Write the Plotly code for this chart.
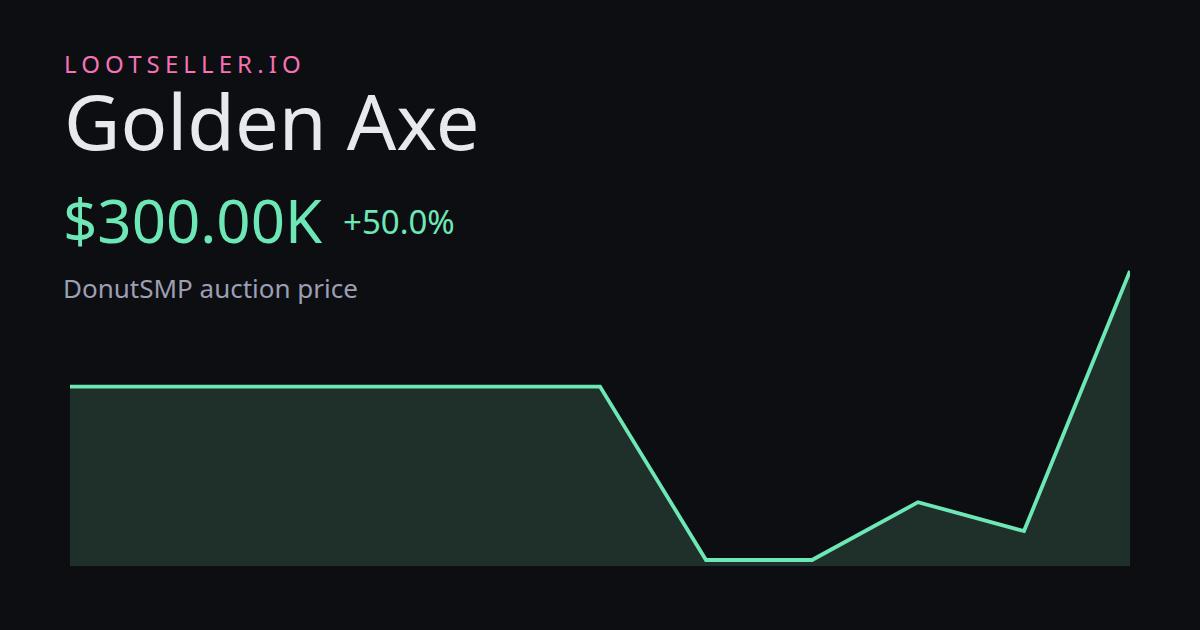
import plotly.graph_objects as go

# ---- data ----
prices_k = [200, 200, 200, 200, 200, 200, 50, 50, 100, 75, 300]
brand = "LOOTSELLER.IO"
item_name = "Golden Axe"
price_label = "$300.00K"
change_label = "+50.0%"
subtitle = "DonutSMP auction price"

# ---- style ----
W, H = 1200, 630
BG = "#0c0e12"
GREEN = "#6ee7b7"
FILL = "#1f302a"
PINK = "#f472b6"
WHITE = "#e8e9ee"
GRAY = "#9c9fb2"
FONT = "Noto Sans"

L, R, T, B = 70, 70, 260, 64
pw, ph = W - L - R, H - T - B

def px(x):
    return (x - L) / pw

def py(y):
    return (H - B - y) / ph

xs = list(range(len(prices_k)))
lo, hi = min(prices_k), max(prices_k)
span = hi - lo
yrange = [lo - 0.0208 * span, hi + 0.0380 * span]

fig = go.Figure()
fig.add_trace(go.Scatter(
    x=xs, y=prices_k, mode="lines",
    line=dict(color=GREEN, width=3.8),
    fill="tozeroy", fillcolor=FILL,
    hoverinfo="skip",
))

def ann(text, x, y, size, color):
    fig.add_annotation(
        text=text, x=px(x), y=py(y), xref="paper", yref="paper",
        xanchor="left", yanchor="middle", align="left", showarrow=False,
        font=dict(family=FONT, size=size, color=color),
    )

ann(brand, 62, 63, 24, PINK)
ann(item_name, 62, 120, 77.5, WHITE)
ann(price_label, 61, 220, 60, GREEN)
ann(change_label, 341, 221, 33, GREEN)
ann(subtitle, 61, 288, 26, GRAY)

fig.update_layout(
    width=W, height=H,
    margin=dict(l=L, r=R, t=T, b=B),
    paper_bgcolor=BG, plot_bgcolor=BG,
    showlegend=False,
    xaxis=dict(range=[xs[0], xs[-1]], visible=False, fixedrange=True),
    yaxis=dict(range=yrange, visible=False, fixedrange=True),
)

post = """
document.body.style.margin = '0';
document.body.style.padding = '0';
document.body.style.background = '%s';
document.querySelectorAll('.annotation-text').forEach(function(t){
  if (t.textContent === 'LOOTSELLER.IO') { t.style.letterSpacing = '5.1px'; }
});
""" % BG
fig.write_html("out.html", config={"displayModeBar": False}, post_script=post)
